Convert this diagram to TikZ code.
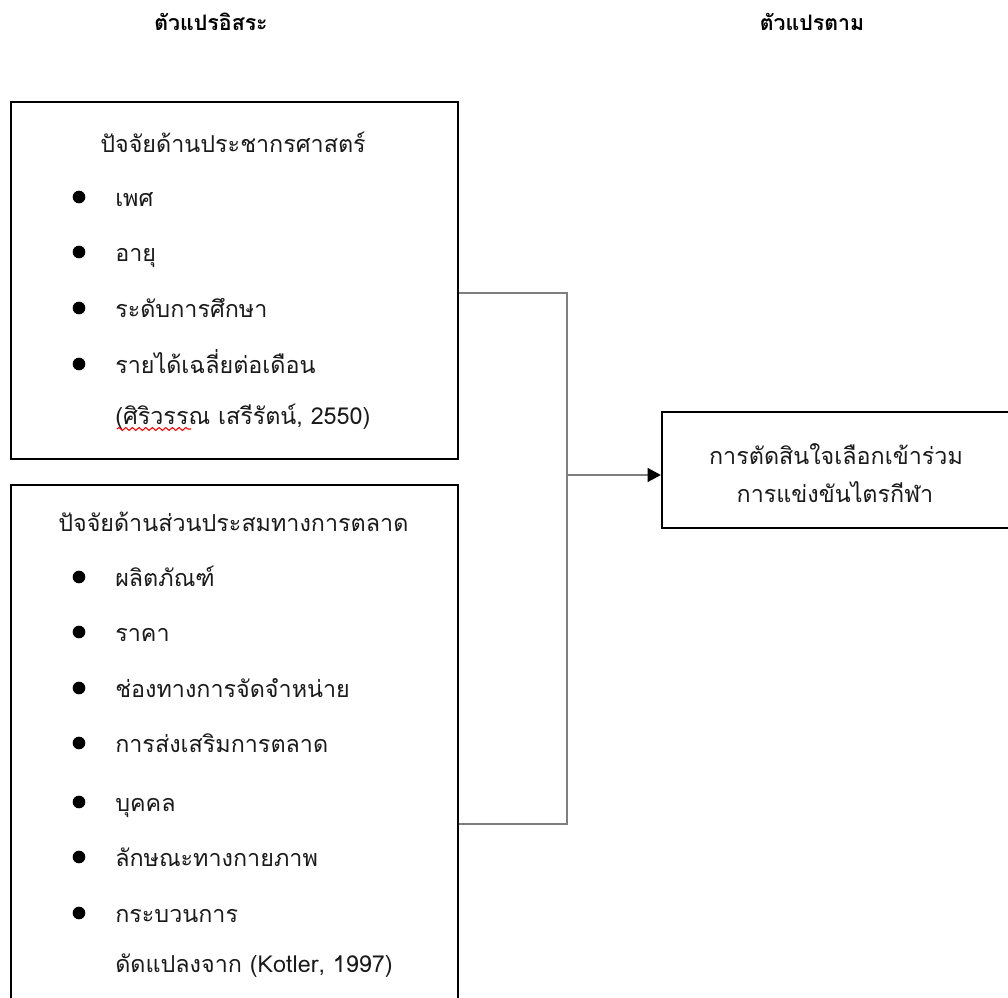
\documentclass[tikz,border=0pt]{standalone}
\usepackage{fontspec}
\newfontfamily\thai[Script=Thai]{Loma}
\usetikzlibrary{arrows.meta,decorations.pathmorphing}
\definecolor{txt}{HTML}{1A1A1A}
\definecolor{conn}{HTML}{7F7F7F}
\tikzset{
  box/.style={draw=black, line width=1.7pt, fill=none, inner sep=0pt},
  head/.style={font=\thai\bfseries\fontsize{16}{19}\selectfont, text=black, inner sep=0pt},
  item/.style={font=\thai\fontsize{17.5}{21}\selectfont, text=txt, anchor=west, inner sep=0pt, text height=15pt, text depth=1pt},
  dot/.style={circle, fill=black, inner sep=0pt, minimum size=9.5pt},
  conline/.style={draw=conn, line width=1.2pt},
}
\begin{document}
\begin{tikzpicture}[x=0.75pt,y=-0.75pt]
\useasboundingbox (0,0) rectangle (1008,998);
\clip (0,0) rectangle (1008,998);
% headers
\node[head] (h1) at (211,22) {ตัวแปรอิสระ};
\node[head] (h2) at (812,22) {ตัวแปรตาม};
% boxes
\node[box, minimum width=335.25pt, minimum height=267.75pt] (b1) at (234.5,280.5) {};
\node[box, minimum width=335.25pt, minimum height=393.75pt] (b2) at (234.5,747.5) {};
\node[box, minimum width=264.75pt, minimum height=87pt] (b3) at (838.5,470) {};
% box 1 content
\node[item, anchor=center] (t1) at (233,143) {ปัจจัยด้านประชากรศาสตร์};
\node[dot] (d11) at (79,197) {};
\node[item] (i11) at (115,197) {เพศ};
\node[dot] (d12) at (79,252) {};
\node[item] (i12) at (115,252) {อายุ};
\node[dot] (d13) at (79,308) {};
\node[item] (i13) at (115,308) {ระดับการศึกษา};
\node[dot] (d14) at (79,364) {};
\node[item] (i14) at (115,364) {รายได้เฉลี่ยต่อเดือน};
\node[item] (i15) at (115,415) {(ศิริวรรณ เสรีรัตน์, 2550)};
\draw[red, line width=0.8pt, decorate, decoration={snake, amplitude=1.1pt, segment length=5pt}] (117,429) -- (191,429);
% box 2 content
\node[item, anchor=west] (t2) at (58,522) {ปัจจัยด้านส่วนประสมทางการตลาด};
\node[dot] (d21) at (79,577) {};
\node[item] (i21) at (115,577) {ผลิตภัณฑ์};
\node[dot] (d22) at (79,632) {};
\node[item] (i22) at (115,632) {ราคา};
\node[dot] (d23) at (79,688) {};
\node[item] (i23) at (115,688) {ช่องทางการจัดจำหน่าย};
\node[dot] (d24) at (79,743) {};
\node[item] (i24) at (115,743) {การส่งเสริมการตลาด};
\node[dot] (d25) at (79,802) {};
\node[item] (i25) at (115,802) {บุคคล};
\node[dot] (d26) at (79,857) {};
\node[item] (i26) at (115,857) {ลักษณะทางกายภาพ};
\node[dot] (d27) at (79,913) {};
\node[item] (i27) at (115,913) {กระบวนการ};
\node[item] (i28) at (115,963) {ดัดแปลงจาก (Kotler, 1997)};
% right box content
\node[item, anchor=center] (r1) at (836,455) {การตัดสินใจเลือกเข้าร่วม};
\node[item, anchor=center] (r2) at (835,493) {การแข่งขันไตรกีฬา};
% connectors
\coordinate (j1) at (567,293);
\coordinate (j2) at (567,824);
\coordinate (j3) at (567,475);
\draw[conline] (b1.east |- j1) -- (j1) -- (j2) -- (b2.east |- j2);
\draw[conline, -{Triangle[length=10pt,width=10.5pt,color=black]}] (j3) -- (b3.west |- j3);
\end{tikzpicture}
\end{document}
